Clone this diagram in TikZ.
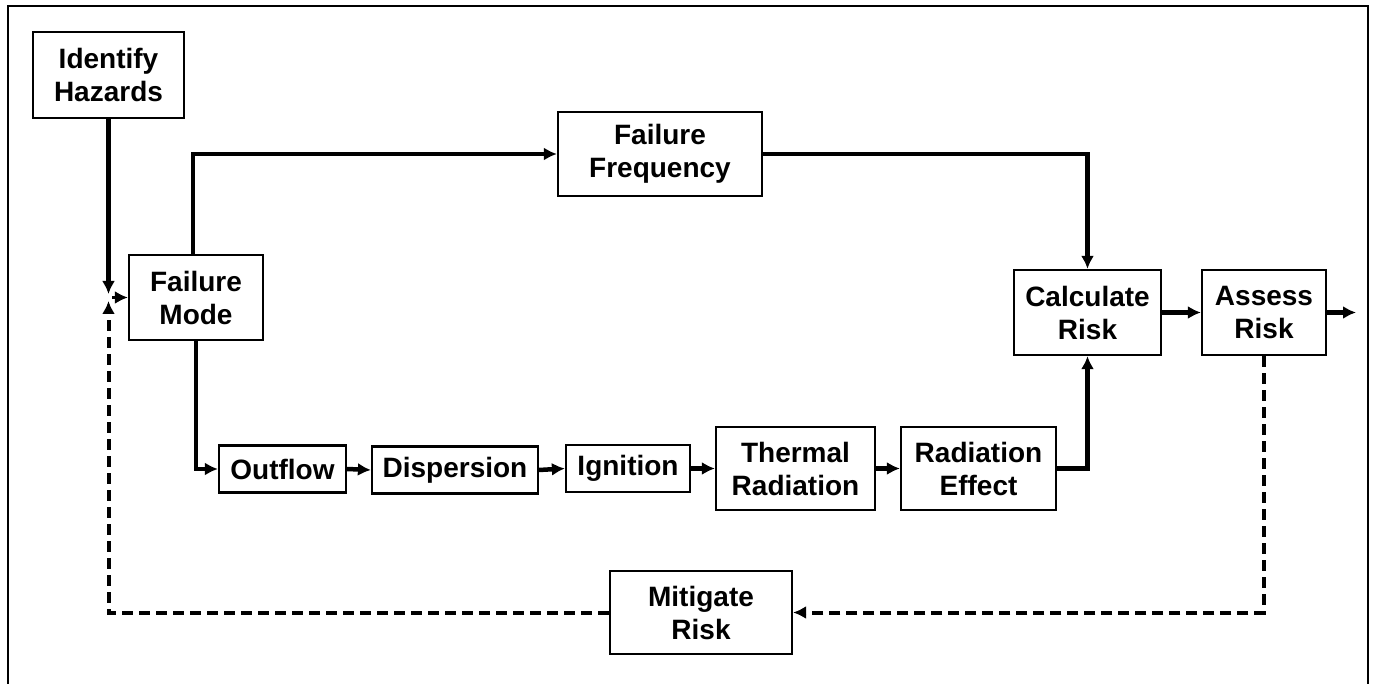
\documentclass[tikz,border=0pt]{standalone}
\usepackage{fontspec}
\setmainfont{Liberation Sans}
\usetikzlibrary{arrows.meta}
\begin{document}
\begin{tikzpicture}[x=1pt,y=-1pt,
  box/.style={draw=black,line width=2.2pt,fill=white,align=center,inner sep=0pt,
    font=\fontsize{28}{33}\selectfont\bfseries},
  conn/.style={line width=4.5pt,-{Latex[length=13pt,width=13pt]}},
  dconn/.style={line width=4pt,dash pattern=on 11pt off 6pt,-{Latex[length=13pt,width=13pt]}}
]
\useasboundingbox (0,0) rectangle (1374,684);
\begin{scope}
\clip (0,0) rectangle (1374,684);
\draw[line width=2pt] (8,6) rectangle (1368,720);
\end{scope}

\node[box,minimum width=151pt,minimum height=86pt] (ih) at (108.5,75) {Identify\\Hazards};
\node[box,minimum width=134pt,minimum height=85pt] (fm) at (196,297.5) {Failure\\Mode};
\node[box,minimum width=204pt,minimum height=84pt] (ff) at (660,154) {Failure\\Frequency};
\node[box,minimum width=147pt,minimum height=85pt] (cr) at (1087.5,312.5) {Calculate\\Risk};
\node[box,minimum width=124pt,minimum height=85pt] (ar) at (1264,312.5) {Assess\\Risk};
\node[box,minimum width=127pt,minimum height=47pt] (of) at (282.5,469) {Outflow};
\node[box,minimum width=166pt,minimum height=47pt] (ds) at (455,470) {Dispersion};
\node[box,minimum width=124pt,minimum height=47pt] (ig) at (628,468.5) {Ignition};
\node[box,minimum width=159pt,minimum height=83pt] (tr) at (795.5,468.5) {Thermal\\Radiation};
\node[box,minimum width=155pt,minimum height=83pt] (re) at (978.5,468.5) {Radiation\\Effect};
\node[box,minimum width=182pt,minimum height=83pt] (mr) at (701,612.5) {Mitigate\\Risk};

\coordinate (jtop) at (108.5,294);
\coordinate (jbot) at (108.5,301);
\coordinate (jmid) at (112,297.5);
\coordinate (fmtop) at (193,255);
\coordinate (outend) at (1356,312.5);

% solid connectors
\draw[conn] (ih.south) -- (jtop);
\draw[conn,line width=3pt] (jmid) -- (fm.west);
\draw[conn,line width=3.5pt] (fmtop) |- (ff.west);
\draw[conn] (ff.east) -| (cr.north);
\draw[conn] (fm.south) |- (of.west);
\draw[conn] (of.east) -- (ds.west);
\draw[conn] (ds.east) -- (ig.west);
\draw[conn] (ig.east) -- (tr.west);
\draw[conn] (tr.east) -- (re.west);
\draw[conn] (re.east) -| (cr.south);
\draw[conn] (cr.east) -- (ar.west);
\draw[conn] (ar.east) -- (outend);

% dashed feedback
\draw[dconn] (ar.south) |- (mr.east);
\draw[dconn] (mr.west) -| (jbot);
\end{tikzpicture}
\end{document}
